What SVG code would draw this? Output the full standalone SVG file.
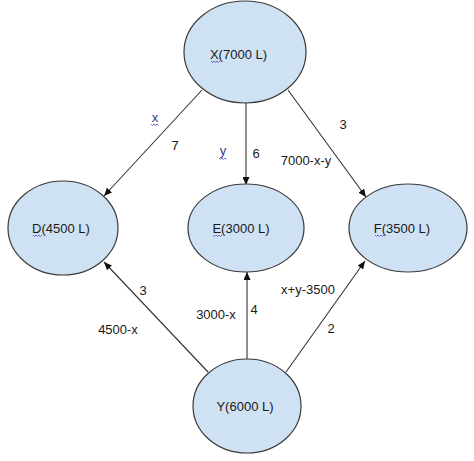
<svg xmlns="http://www.w3.org/2000/svg" width="474" height="461" viewBox="0 0 474 461">
<style>
.node{fill:#cfe2f3;stroke:#3a3a3a;stroke-width:1.2}
.lbl{font-family:"Liberation Sans",Arial,sans-serif;font-size:13px;fill:#1a1a1a;text-anchor:middle}
.var{fill:#3a3a8c}
.edge{stroke:#333;stroke-width:1.1;fill:none}
.sq{stroke:#4a4ad0;stroke-width:0.8;fill:none}
</style>
<defs>
<marker id="ah" markerWidth="8" markerHeight="7" refX="8" refY="3.5" orient="auto" markerUnits="userSpaceOnUse">
<path d="M0,0 L8,3.5 L0,7 z" fill="#111"/>
</marker>
</defs>
<rect width="474" height="461" fill="#fff"/>
<g id="connectors">
<line class="edge" x1="202" y1="90" x2="104" y2="196" marker-end="url(#ah)"/>
<line class="edge" x1="246" y1="103" x2="246" y2="185" marker-end="url(#ah)"/>
<line class="edge" x1="288" y1="90" x2="366" y2="197" marker-end="url(#ah)"/>
<line class="edge" x1="208" y1="372" x2="104" y2="262" marker-end="url(#ah)"/>
<line class="edge" x1="247" y1="359" x2="247" y2="272" marker-end="url(#ah)"/>
<line class="edge" x1="286" y1="372" x2="365" y2="261" marker-end="url(#ah)"/>
<text class="lbl var" x="155" y="122">x</text>
<path class="sq" d="M151,124 l1.5,1.5 l1.5,-1.5 l1.5,1.5 l1.5,-1.5 l1.5,1.5"/>
<text class="lbl" x="175" y="150">7</text>
<text class="lbl var" x="223" y="155">y</text>
<path class="sq" d="M219,158 l1.5,1.5 l1.5,-1.5 l1.5,1.5 l1.5,-1.5 l1.5,1.5"/>
<text class="lbl" x="256" y="158">6</text>
<text class="lbl" x="343" y="129">3</text>
<text class="lbl" x="306" y="165">7000-x-y</text>
<text class="lbl" x="143" y="295">3</text>
<text class="lbl" x="118" y="334">4500-x</text>
<text class="lbl" x="216" y="319">3000-x</text>
<text class="lbl" x="254" y="314">4</text>
<text class="lbl" x="308" y="294">x+y-3500</text>
<text class="lbl" x="331" y="333">2</text>
</g>
<g id="node-X">
<ellipse class="node" cx="245" cy="52" rx="61" ry="51"/>
<text class="lbl" x="238.5" y="59">X(7000 L)</text>
<path class="sq" d="M211,61 l1.5,1.5 l1.5,-1.5 l1.5,1.5 l1.5,-1.5 l1.5,1.5 l1.5,-1.5"/>
</g>
<g id="node-D">
<ellipse class="node" cx="63" cy="228" rx="55" ry="47"/>
<text class="lbl" x="61" y="233">D(4500 L)</text>
<path class="sq" d="M33,235 l1.5,1.5 l1.5,-1.5 l1.5,1.5 l1.5,-1.5 l1.5,1.5 l1.5,-1.5"/>
</g>
<g id="node-E">
<ellipse class="node" cx="246" cy="228" rx="58" ry="44"/>
<text class="lbl" x="241" y="233">E(3000 L)</text>
<path class="sq" d="M213,235 l1.5,1.5 l1.5,-1.5 l1.5,1.5 l1.5,-1.5 l1.5,1.5 l1.5,-1.5"/>
</g>
<g id="node-F">
<ellipse class="node" cx="408" cy="228" rx="59" ry="44"/>
<text class="lbl" x="402" y="233">F(3500 L)</text>
<path class="sq" d="M375,235 l1.5,1.5 l1.5,-1.5 l1.5,1.5 l1.5,-1.5 l1.5,1.5 l1.5,-1.5"/>
</g>
<g id="node-Y">
<ellipse class="node" cx="247" cy="406" rx="54" ry="47"/>
<text class="lbl" x="245" y="411">Y(6000 L)</text>
</g>
</svg>
